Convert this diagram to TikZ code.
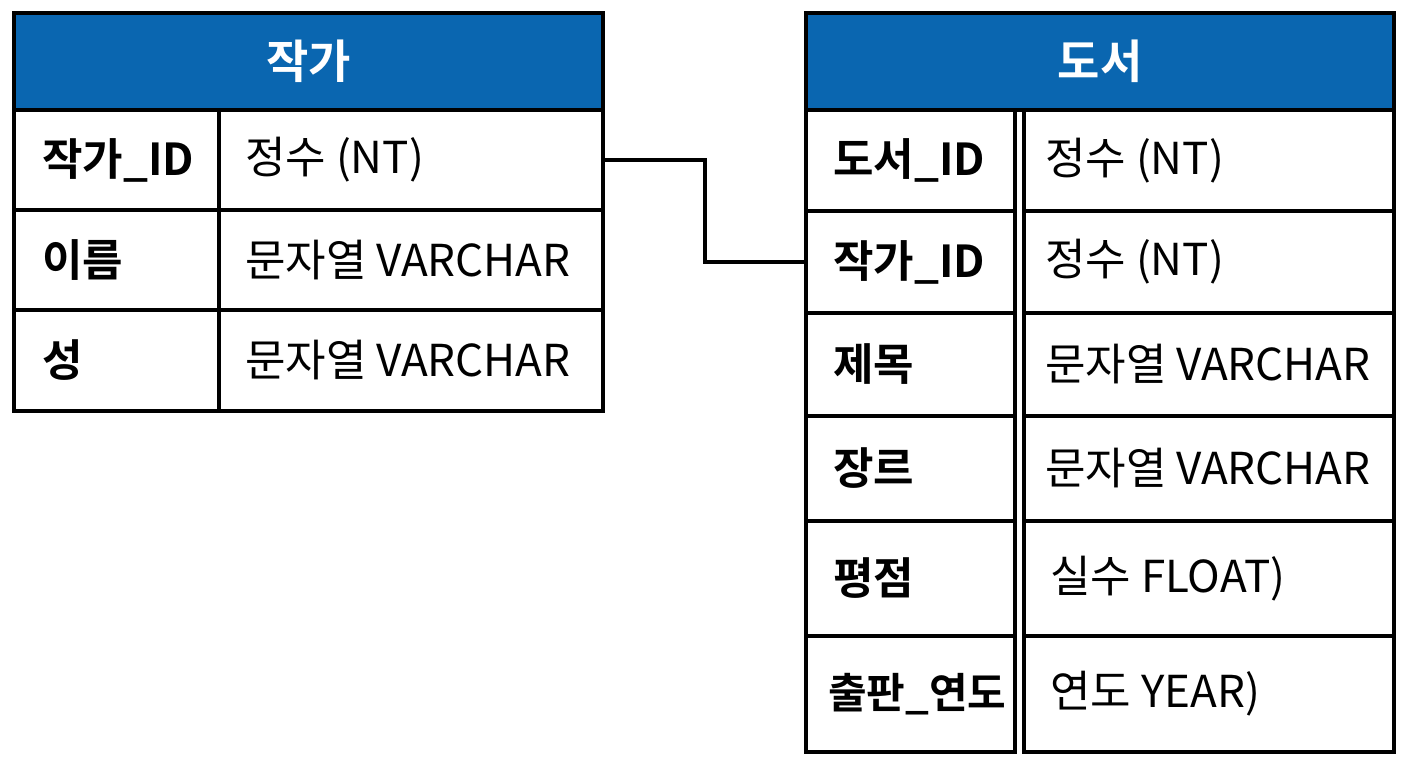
\documentclass[tikz,border=0pt]{standalone}
\usepackage{fontspec}
\setmainfont{Noto Sans CJK KR}
\newfontfamily\krbold{Noto Sans CJK KR Bold}
\definecolor{hdrblue}{RGB}{10,102,176}
\tikzset{
  frame/.style={draw=black, line width=4pt},
  hdrcell/.style={frame, fill=hdrblue, rectangle, anchor=north west, inner sep=0pt, outer sep=0pt},
  cell/.style={frame, fill=white, rectangle, anchor=north west, inner sep=0pt, outer sep=0pt},
  hdrtext/.style={text=white, font=\krbold\fontsize{46}{50}\selectfont, inner sep=0pt},
  nametext/.style={anchor=west, inner sep=0pt, font=\krbold\fontsize{44}{48}\selectfont},
  typetext/.style={anchor=west, inner sep=0pt, font=\fontsize{44}{48}\selectfont},
  link/.style={draw=black, line width=3.5pt}
}
\begin{document}
\begin{tikzpicture}[x=1pt,y=-1pt]
\useasboundingbox (0,0) rectangle (1408,768);
% ---------- left table: 작가 ----------
\node[hdrcell, minimum width=589pt, minimum height=97pt] (lh) at (14,13) {};
\node[hdrtext] (lht) at (lh.center) {작가};
% rows
\node[cell, minimum width=205pt, minimum height=100pt] (ln1) at (14,110) {};
\node[cell, minimum width=384pt, minimum height=100pt] (lt1) at (219,110) {};
\node[cell, minimum width=205pt, minimum height=100pt] (ln2) at (14,210) {};
\node[cell, minimum width=384pt, minimum height=100pt] (lt2) at (219,210) {};
\node[cell, minimum width=205pt, minimum height=101pt] (ln3) at (14,310) {};
\node[cell, minimum width=384pt, minimum height=101pt] (lt3) at (219,310) {};
\node[nametext] (ln1t) at ([xshift=28pt]ln1.west) {작가\_ID};
\node[nametext] (ln2t) at ([xshift=28pt]ln2.west) {이름};
\node[nametext] (ln3t) at ([xshift=28pt]ln3.west) {성};
\node[typetext] (lt1t) at ([xshift=26pt]lt1.west) {정수 (NT)};
\node[typetext] (lt2t) at ([xshift=26pt]lt2.west) {문자열 VARCHAR};
\node[typetext] (lt3t) at ([xshift=26pt]lt3.west) {문자열 VARCHAR};
% ---------- right table: 도서 ----------
\node[hdrcell, minimum width=588pt, minimum height=97pt] (rh) at (806,13) {};
\node[hdrtext] (rht) at (rh.center) {도서};
\node[cell, minimum width=209pt, minimum height=101pt] (rn1) at (806,110) {};
\node[cell, minimum width=370pt, minimum height=101pt] (rt1) at (1024,110) {};
\node[cell, minimum width=209pt, minimum height=102pt] (rn2) at (806,211) {};
\node[cell, minimum width=370pt, minimum height=102pt] (rt2) at (1024,211) {};
\node[cell, minimum width=209pt, minimum height=103pt] (rn3) at (806,313) {};
\node[cell, minimum width=370pt, minimum height=103pt] (rt3) at (1024,313) {};
\node[cell, minimum width=209pt, minimum height=105pt] (rn4) at (806,416) {};
\node[cell, minimum width=370pt, minimum height=105pt] (rt4) at (1024,416) {};
\node[cell, minimum width=209pt, minimum height=115pt] (rn5) at (806,521) {};
\node[cell, minimum width=370pt, minimum height=115pt] (rt5) at (1024,521) {};
\node[cell, minimum width=209pt, minimum height=116pt] (rn6) at (806,636) {};
\node[cell, minimum width=370pt, minimum height=116pt] (rt6) at (1024,636) {};
\node[nametext] (rn1t) at ([xshift=27pt]rn1.west) {도서\_ID};
\node[nametext] (rn2t) at ([xshift=27pt]rn2.west) {작가\_ID};
\node[nametext] (rn3t) at ([xshift=27pt]rn3.west) {제목};
\node[nametext] (rn4t) at ([xshift=27pt]rn4.west) {장르};
\node[nametext] (rn5t) at ([xshift=27pt]rn5.west) {평점};
\node[nametext, font=\krbold\fontsize{42}{46}\selectfont] (rn6t) at ([xshift=22pt]rn6.west) {출판\_연도};
\node[typetext] (rt1t) at ([xshift=21pt]rt1.west) {정수 (NT)};
\node[typetext] (rt2t) at ([xshift=21pt]rt2.west) {정수 (NT)};
\node[typetext] (rt3t) at ([xshift=21pt]rt3.west) {문자열 VARCHAR};
\node[typetext] (rt4t) at ([xshift=21pt]rt4.west) {문자열 VARCHAR};
\node[typetext] (rt5t) at ([xshift=26pt]rt5.west) {실수 FLOAT)};
\node[typetext] (rt6t) at ([xshift=26pt]rt6.west) {연도 YEAR)};
% ---------- connector ----------
\coordinate (bendx) at (705,0);
\draw[link] (lt1.east) -- (lt1.east -| bendx) |- (rn2.west);
\end{tikzpicture}
\end{document}
